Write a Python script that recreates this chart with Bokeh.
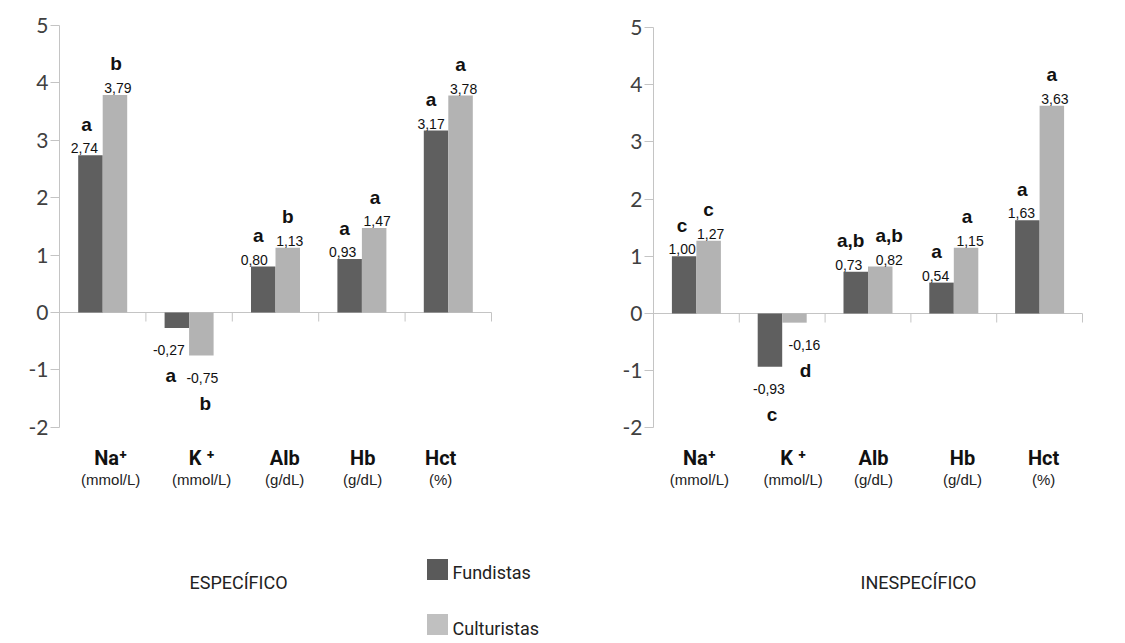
import numpy as np
from bokeh.plotting import figure
from bokeh.layouts import row
from bokeh.models import Range1d, FixedTicker, ColumnDataSource
from bokeh.core.properties import value
from bokeh.embed import file_html
from bokeh.resources import INLINE

# ---------------- data ----------------
categories = ["Na\u207a", "K \u207a", "Alb", "Hb", "Hct"]
units = ["(mmol/L)", "(mmol/L)", "(g/dL)", "(g/dL)", "(%)"]
series = ["Fundistas", "Culturistas"]
y_ticks = [-2, -1, 0, 1, 2, 3, 4, 5]
panel_titles = ["ESPECÍFICO", "INESPECÍFICO"]

esp_fund = [2.74, -0.27, 0.80, 0.93, 3.17]
esp_cult = [3.79, -0.75, 1.13, 1.47, 3.78]
esp_fund_letters = ["a", "a", "a", "a", "a"]
esp_cult_letters = ["b", "b", "b", "a", "a"]

ines_fund = [1.00, -0.93, 0.73, 0.54, 1.63]
ines_cult = [1.27, -0.16, 0.82, 1.15, 3.63]
ines_fund_letters = ["c", "c", "a,b", "a", "a"]
ines_cult_letters = ["c", "d", "a,b", "a", "a"]

# ---------------- style ----------------
COLORS = ["#5f5f5f", "#b3b3b3"]
LEGEND_COLORS = ["#5a5a5a", "#c0c0c0"]
AXIS_COLOR = "#c4c4c4"
NARROW = "Roboto"
SANS = "Liberation Sans"
H = 643


def make_panel(fig_w, frame_left, ux, zero_px, uy, fund, cult, fl, cl, title,
               title_cx, label_nudge, value_nudge, letter_nudge, legend=False):
    def xd(px):
        return (px - frame_left) / ux

    def yd(py):
        return (zero_px - py) / uy

    p = figure(width=fig_w, height=H, output_backend="svg", toolbar_location=None,
               x_axis_location=None, y_axis_location="left",
               x_range=Range1d(0, xd(fig_w)), y_range=Range1d(yd(H), yd(0)),
               min_border_left=frame_left, min_border_right=0,
               min_border_top=0, min_border_bottom=0)
    p.outline_line_color = None
    p.grid.visible = False
    p.xgrid.visible = False
    p.ygrid.visible = False
    p.background_fill_color = "white"
    p.border_fill_color = "white"

    ax = p.yaxis[0]
    ax.ticker = FixedTicker(ticks=y_ticks)
    ax.bounds = (min(y_ticks), max(y_ticks))
    ax.axis_line_color = AXIS_COLOR
    ax.major_tick_line_color = AXIS_COLOR
    ax.major_tick_out = 9
    ax.major_tick_in = 0
    ax.minor_tick_line_color = None
    ax.major_label_standoff = 2
    ax.major_label_text_font = "Lato"
    ax.major_label_text_font_size = "21px"
    ax.major_label_text_color = "#404040"
    ax.major_label_overrides = {t: str(t) for t in y_ticks}

    n = len(categories)
    centers = np.arange(n) + 0.5
    bw = 24.5 / ux

    # zero baseline and category boundary ticks
    p.segment(x0=[0], y0=[0], x1=[n], y1=[0], line_color=AXIS_COLOR, line_width=1)
    bnd = np.arange(1, n + 1)
    p.segment(x0=bnd, y0=np.zeros(n), x1=bnd, y1=np.full(n, -9 / uy),
              line_color=AXIS_COLOR, line_width=1)

    for k, (vals, letters) in enumerate([(fund, fl), (cult, cl)]):
        xs = centers + (k - 0.5) * bw
        vals = np.array(vals)
        pos = vals >= 0
        src = ColumnDataSource(dict(
            x=xs, top=vals,
            txt=[f"{v:.2f}".replace(".", ",") for v in vals],
            let=letters,
            voff=np.where(pos, -7, 22),
            loff=np.where(pos, -31, 48),
            vx=np.array(value_nudge[k], dtype=float),
            lx=np.array(letter_nudge[k], dtype=float),
        ))
        p.vbar(x="x", top="top", bottom=0, width=bw, source=src,
               fill_color=COLORS[k], line_color=None)
        p.text(x="x", y="top", text="txt", source=src, x_offset="vx", y_offset="voff",
               text_align="center", text_baseline="alphabetic",
               text_font=value(SANS), text_font_size="14px", text_color="#111111")
        p.text(x="x", y="top", text="let", source=src, x_offset="lx", y_offset="loff",
               text_align="center", text_baseline="alphabetic",
               text_font=value(SANS), text_font_style="bold",
               text_font_size="19px", text_color="#111111")

    # category labels
    csrc = ColumnDataSource(dict(x=centers, cat=categories, unit=units,
                                 nx=np.array(label_nudge, dtype=float)))
    p.text(x="x", y=yd(457), text="cat", source=csrc, x_offset="nx",
           text_align="center", text_baseline="alphabetic",
           text_font=value(NARROW), text_font_style="bold",
           text_font_size="20px", text_color="#111111")
    p.text(x="x", y=yd(479), text="unit", source=csrc, x_offset="nx",
           text_align="center", text_baseline="alphabetic",
           text_font=value(SANS), text_font_size="15px", text_color="#222222")

    # panel title
    p.text(x=[xd(title_cx)], y=[yd(582)], text=[title], text_align="center",
           text_baseline="alphabetic", text_font=value(NARROW),
           text_font_size="18px", text_color="#222222")

    if legend:
        box_x = [xd(437), xd(437)]
        box_y = [yd(569), yd(624)]
        p.scatter(x=box_x, y=box_y, marker="square", size=21,
                  fill_color=LEGEND_COLORS, line_color=None)
        p.text(x=[xd(452)] * 2, y=[yd(572), yd(628)], text=series,
               text_align="left", text_baseline="alphabetic",
               text_font=value(NARROW), text_font_size="18px", text_color="#222222")
    return p


left = make_panel(562, 59, 86.4, 312, 57.4, esp_fund, esp_cult,
                  esp_fund_letters, esp_cult_letters, panel_titles[0], 238,
                  label_nudge=[8, 12.6, 9.2, 0.8, -7.6],
                  value_nudge=[[-6, -8, -9, -7, -5], [3, 1, 2, 3, 3]],
                  letter_nudge=[[-4, -6, -5, -5, -5], [1, 4, 0, 1, 0]],
                  legend=True)
right = make_panel(563, 91, 85.8, 313, 57.2, ines_fund, ines_cult,
                   ines_fund_letters, ines_cult_letters, panel_titles[1], 918 - 562,
                   label_nudge=[3, 11, 5.5, 8.7, 4],
                   value_nudge=[[-2, -1, -7, -6, -6], [2, 10, 9, 4, 3]],
                   letter_nudge=[[-2, 2, -5, -5, -5], [0, 11, 9, 1, 0]])

layout = row(left, right, spacing=0)
open("out.html", "w").write(file_html(layout, INLINE))
